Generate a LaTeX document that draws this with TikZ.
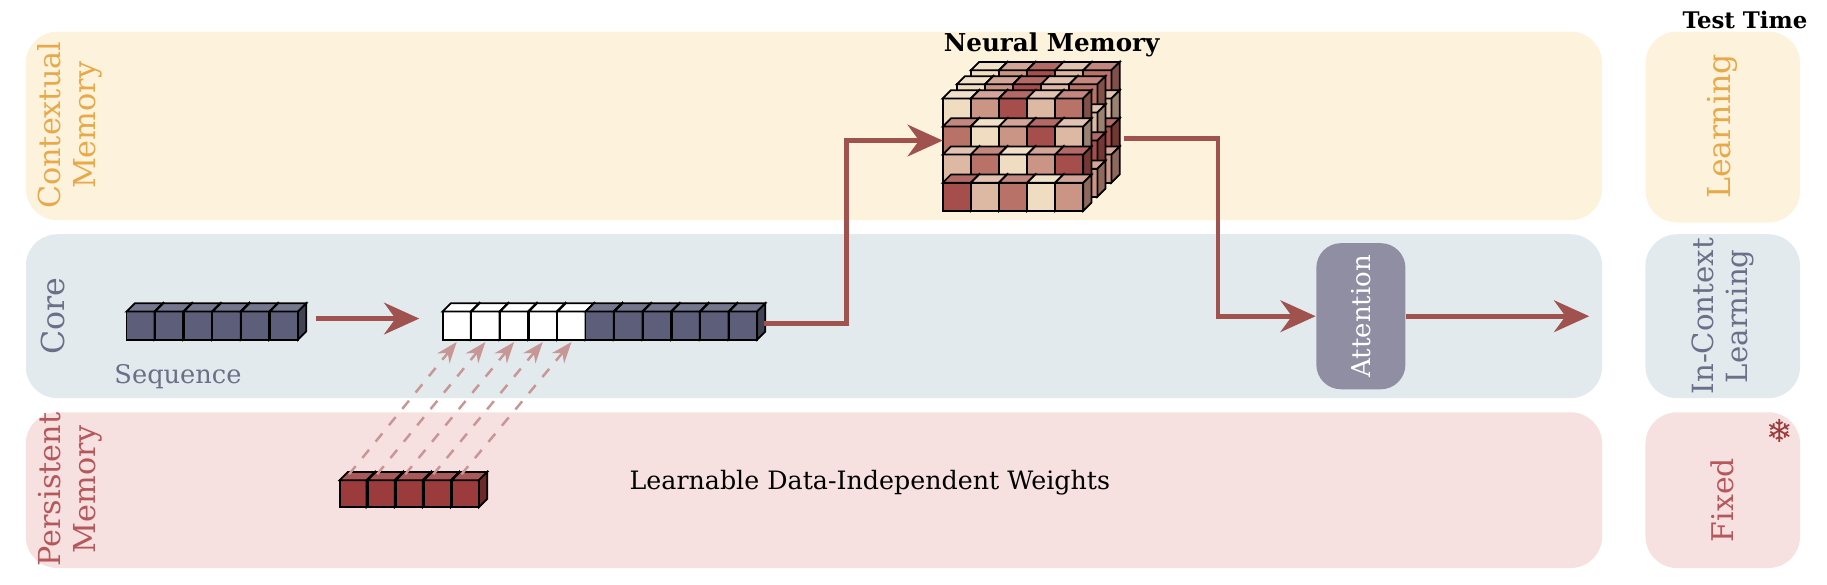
\documentclass[tikz,border=0pt]{standalone}
\usepackage{fontspec}
\setmainfont{DejaVu Serif}
\newfontfamily\symfont{DejaVu Sans}
\usetikzlibrary{arrows.meta,positioning}
\definecolor{ctxback}{HTML}{FDF3DC}
\definecolor{coreback}{HTML}{E3EAEE}
\definecolor{perback}{HTML}{F7E0E0}
\definecolor{ctxtext}{HTML}{E8A94A}
\definecolor{coretext}{HTML}{6B6F87}
\definecolor{pertext}{HTML}{B5585C}
\definecolor{seqcol}{HTML}{5D5F7A}
\definecolor{mred}{HTML}{9B3B3B}
\definecolor{mbeige}{HTML}{F0DCC0}
\definecolor{flow}{HTML}{A0524F}
\definecolor{attcol}{HTML}{8F8EA3}
\tikzset{
	band/.style={fill=#1, draw=none, rounded corners=9pt},
	sidelabel/.style={rotate=90, text=#1, align=center},
	flowarrow/.style={draw=flow, line width=1.4pt, -{Stealth[length=10pt,width=9pt]}},
	weightarrow/.style={draw=flow!60, dashed, line width=0.7pt, -{Stealth[length=6pt]}}
}
% one cube: x, y, size, colour
\newcommand\cubecell[4]{%
	\filldraw[fill=#4, draw=black, line width=0.5pt] (#1,#2) rectangle ++(#3,#3);
	\filldraw[fill=#4!85!white, draw=black, line width=0.5pt] (#1,#2) -- ++(7,-7) -- ++(#3,0) -- ++(-7,7) -- cycle;
	\filldraw[fill=#4!70!black, draw=black, line width=0.5pt] (#1+#3,#2) -- ++(7,-7) -- ++(0,#3) -- ++(-7,7) -- cycle;}
\begin{document}
\begin{tikzpicture}[x=0.01171cm, y=-0.01171cm]
	\useasboundingbox (0,0) rectangle (1560,499.5);

	% bands
	\fill[band=ctxback]  (22,27)  rectangle (1368,188);
	\fill[band=coreback] (22,200) rectangle (1368,340);
	\fill[band=perback]  (22,352) rectangle (1368,485);
	\fill[band=ctxback]  (1405,27)  rectangle (1537,190);
	\fill[band=coreback] (1405,200) rectangle (1537,340);
	\fill[band=perback]  (1405,352) rectangle (1537,485);

	\node[sidelabel=ctxtext, font=\fontsize{8.6}{10}\selectfont]  (ctx) at (60,107) {Contextual\\Memory};
	\node[sidelabel=coretext, font=\fontsize{9}{10}\selectfont] (core) at (45,270) {Core};
	\node[sidelabel=pertext, font=\fontsize{8.6}{10}\selectfont]  (per) at (60,418) {Persistent\\Memory};
	\node[sidelabel=ctxtext, font=\fontsize{9}{10}\selectfont]  (learn) at (1471,108) {Learning};
	\node[sidelabel=coretext, font=\fontsize{8.3}{9.5}\selectfont] (icl) at (1471,270) {In-Context\\Learning};
	\node[sidelabel=pertext, font=\fontsize{8.5}{9}\selectfont]  (fixed) at (1471,427) {Fixed};
	\node[text=mred, font=\symfont\fontsize{9}{9}\selectfont] (flake) at (1520,368) {❄};
	\node[font=\bfseries\fontsize{6.5}{7}\selectfont] (testtime) at (1490,17) {Test Time};

	% sequence
	\foreach \i in {0,...,5} {\cubecell{108+\i*24.5}{266}{24}{seqcol}}
	\node[text=coretext, font=\fontsize{7.3}{8}\selectfont] (seqlabel) at (152,322) {Sequence};
	\coordinate (seqout) at (270,272);
	\coordinate (catin) at (358,272);
	\draw[flowarrow] (seqout) -- (catin);

	% concatenated sequence
	\foreach \i in {0,...,4} {\cubecell{378+\i*24.5}{266}{24}{white}}
	\foreach \i in {0,...,5} {\cubecell{500+\i*24.5}{266}{24}{seqcol}}
	\coordinate (catout) at (652,276);

	% persistent weights
	\foreach \i in {0,...,4} {
		\cubecell{290+\i*24}{410}{23}{mred}
		\coordinate (w\i) at (298+\i*24,405);
		\coordinate (p\i) at (390+\i*24.5,292);
		\draw[weightarrow] (w\i) -- (p\i);
	}
	\node[font=\fontsize{7.2}{8}\selectfont, anchor=west] (weights) at (527,412) {Learnable Data-Independent Weights};

	% neural memory
	\foreach \l in {2,1,0} {
		\foreach \r in {0,...,3} {
			\foreach \c in {0,...,4} {
				\pgfmathtruncatemacro\m{mod(\c*7+\r*3+\l*5,5)*22}
				\cubecell{805+\c*24+\l*12}{84+\r*24-\l*12}{24}{mred!\m!mbeige}
			}
		}
	}
	\node[font=\bfseries\fontsize{7}{8}\selectfont] (nmlabel) at (898,38) {Neural Memory};
	\coordinate (memin) at (805,120);
	\coordinate (memout) at (960,118);

	% attention
	\node[fill=attcol, rounded corners=7pt, minimum width=0.89cm, minimum height=1.46cm,
		text=white, font=\fontsize{7.4}{8}\selectfont] (att) at (1162,270) {\rotatebox{90}{Attention}};
	\coordinate (outend) at (1357,270);

	\draw[flowarrow] (catout) -| (723,120) -- (memin);
	\draw[flowarrow] (memout) -| (1040,270) -- (att.west);
	\draw[flowarrow] (att.east) -- (outend);
\end{tikzpicture}
\end{document}
